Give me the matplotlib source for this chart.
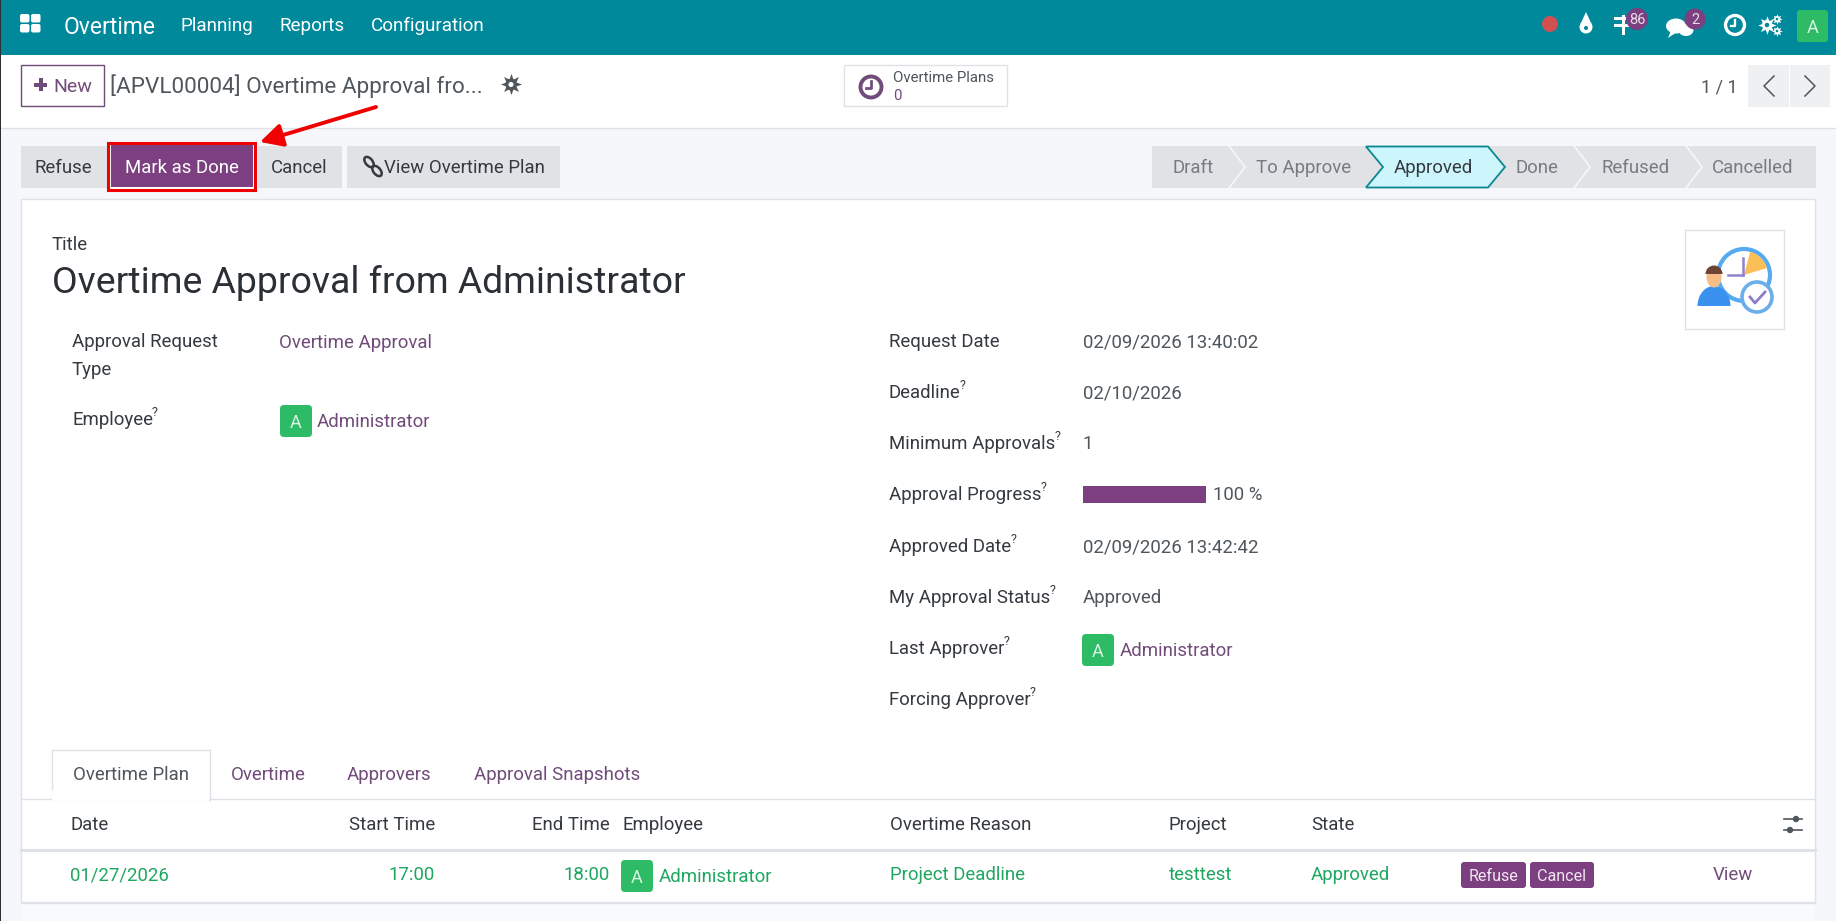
import matplotlib
matplotlib.use("Agg")
import matplotlib.pyplot as plt
from matplotlib.patches import Rectangle, FancyBboxPatch, Circle, Polygon, Wedge, Ellipse

plt.rcParams['font.family'] = ['Roboto', 'DejaVu Sans']

# texts and values
menu_items = ["Planning", "Reports", "Configuration"]
action_buttons = ["Refuse", "Mark as Done", "Cancel", "View Overtime Plan"]
status_steps = ["Draft", "To Approve", "Approved", "Done", "Refused", "Cancelled"]
left_labels = ["Approval Request", "Type", "Employee"]
right_labels = ["Request Date", "Deadline", "Minimum Approvals", "Approval Progress",
                "Approved Date", "My Approval Status", "Last Approver", "Forcing Approver"]
has_help = [False, True, True, True, True, True, True, True]
right_values = ["02/09/2026 13:40:02", "02/10/2026", "1", "", "02/09/2026 13:42:42", "Approved"]
approval_progress = 100
tabs = ["Overtime Plan", "Overtime", "Approvers", "Approval Snapshots"]
table_header = ["Date", "Start Time", "End Time", "Employee", "Overtime Reason", "Project", "State"]
table_row = ["01/27/2026", "17:00", "18:00", "Administrator", "Project Deadline", "testtest", "Approved"]

TEAL = "#00889b"
PURPLE = "#7c3f80"
LINK = "#714b7a"
GREEN = "#1fa760"
AVATAR = "#2dbb66"
DARK = "#343a40"
GREY = "#4f565c"
BTN = "#e0e2e6"
LINE = "#dee2e6"
BODY = 13.4

fig = plt.figure(figsize=(18.36, 9.21), dpi=100)
ax = fig.add_axes([0, 0, 1, 1])
ax.set_xlim(0, 1836)
ax.set_ylim(921, 0)
ax.axis("off")


def box(x0, y0, x1, y1, fc, ec="none", lw=0, z=1):
    ax.add_patch(Rectangle((x0, y0), x1 - x0, y1 - y0, fc=fc, ec=ec, lw=lw, zorder=z))


def rbox(x0, y0, x1, y1, fc, r=3, z=2):
    ax.add_patch(FancyBboxPatch((x0 + r, y0 + r), x1 - x0 - 2 * r, y1 - y0 - 2 * r,
                                boxstyle="round,pad=%d,rounding_size=%d" % (r, r), fc=fc, ec="none", zorder=z))


def txt(x, y, s, size=BODY, color=DARK, ha="left", **kw):
    return ax.text(x, y - 1, s, fontsize=size, color=color, ha=ha, va="center_baseline", zorder=6, **kw)


def avatar(x, y):
    rbox(x, y, x + 32, y + 32, AVATAR, r=4)
    txt(x + 16, y + 17, "A", 13, "#d8f3e2", ha="center")


def label(x, y, s, q=True):
    # label with the small question mark after it
    t = txt(x, y, s)
    if q:
        bb = t.get_window_extent(fig.canvas.get_renderer())
        txt(bb.x1 - 1, y - 7, "?", 9, DARK)


def clock(x, y, r, color, lw=2.4, z=6):
    ax.add_patch(Circle((x, y), r, fc="none", ec=color, lw=lw, zorder=z))
    ax.plot([x, x, x - r * 0.45], [y - r * 0.55, y + r * 0.1, y + r * 0.1], color=color, lw=lw * 0.7, zorder=z)


def gear(x, y, r, color, bg):
    ax.plot([x], [y], marker=(8, 1, 0), ms=r * 1.9, color=color, mew=0, zorder=5)
    ax.add_patch(Circle((x, y), r * 0.72, fc=color, ec="none", zorder=5))
    ax.add_patch(Circle((x, y), r * 0.32, fc=bg, ec="none", zorder=6))


# page background
box(0, 0, 1836, 921, "#f6f7fa", z=0)
box(0, 55, 1836, 128, "#ffffff")
ax.plot([0, 1836], [128.5, 128.5], color=LINE, lw=1, zorder=2)
box(21, 199, 1815, 902, "#ffffff", ec=LINE, lw=1)
box(0, 0, 1.2, 921, "#2b3036", z=7)

# top bar
box(0, 0, 1836, 55, TEAL, z=2)
for gx, gy in [(20, 14), (31, 14), (20, 24), (31, 24)]:
    rbox(gx, gy, gx + 9.5, gy + 8.5, "#ffffff", r=2, z=3)
txt(64, 26, "Overtime", 16.5, "#ffffff")
for mx, item in zip([181, 279.5, 371], menu_items):
    txt(mx, 25, item, 13.6, "#ffffff")

ax.add_patch(Circle((1550, 24), 8, fc="#d25050", ec="none", zorder=4))
# droplet
ax.add_patch(Circle((1586, 27), 6.5, fc="#ffffff", ec="none", zorder=4))
ax.add_patch(Polygon([(1580.5, 24), (1586, 12), (1591.5, 24)], fc="#ffffff", ec="none", zorder=4))
ax.add_patch(Circle((1586, 28), 2, fc=TEAL, ec="none", zorder=5))
# signpost
box(1622, 15, 1625, 35, "#ffffff", z=4)
box(1614, 17, 1632, 20, "#ffffff", z=4)
box(1614, 24, 1632, 27, "#ffffff", z=4)
ax.add_patch(Circle((1637, 19), 11, fc=PURPLE, ec="none", zorder=5))
txt(1637, 20, "86", 10.5, "#e8dcea", ha="center")
# chat bubbles
ax.add_patch(Ellipse((1676, 26), 20, 15, fc="#ffffff", ec="none", zorder=4))
ax.add_patch(Ellipse((1686, 30), 15, 12, fc="#ffffff", ec="none", zorder=4))
ax.add_patch(Polygon([(1668, 38), (1672, 28), (1680, 30)], fc="#ffffff", ec="none", zorder=4))
ax.add_patch(Circle((1695, 19), 10.5, fc=PURPLE, ec="none", zorder=5))
txt(1695, 20, "2", 10.5, "#e8dcea", ha="center")
clock(1735, 25, 9.5, "#ffffff")
gear(1767, 25, 7, "#ffffff", TEAL)
gear(1777, 19, 4, "#ffffff", TEAL)
gear(1777, 31, 4, "#ffffff", TEAL)
rbox(1797, 10, 1828, 42, AVATAR, r=3)
txt(1812.5, 27, "A", 13, "#d8f3e2", ha="center")

# control panel first row
box(20.5, 65.5, 104, 106.5, "#ffffff", ec=LINK, lw=1, z=2)
box(34, 83, 47, 87, LINK, z=3)
box(38.5, 78.5, 42.5, 91.5, LINK, z=3)
txt(53, 86, "New", 14, LINK)
txt(110, 85, "[APVL00004] Overtime Approval fro...", 16.2, GREY)
gear(511, 84.5, 8, GREY, "#ffffff")

box(843.5, 65.5, 1006.5, 106.5, "#ffffff", ec=LINE, lw=1, z=2)
clock(871, 87, 10.5, LINK, lw=2.8)
txt(893, 78, "Overtime Plans", 10.8, GREY)
txt(893, 96, "0", 10.8, LINK)

txt(1738, 86, "1 / 1", 13, GREY, ha="right")
box(1748, 65, 1789, 107, "#eff0f2", z=2)
box(1790, 65, 1830, 107, "#eff0f2", z=2)
ax.plot([1774, 1764, 1774], [76, 86, 96], color=GREY, lw=1.1, zorder=3)
ax.plot([1805, 1815, 1805], [76, 86, 96], color=GREY, lw=1.1, zorder=3)

# action buttons
box(21, 146, 107, 188, BTN, z=2)
box(258, 146, 342, 188, BTN, z=2)
box(347, 146, 560, 188, BTN, z=2)
box(108, 143, 255, 190, "#ffffff", ec="#f00000", lw=2.2, z=3)
box(110.5, 145.5, 253, 187.5, PURPLE, z=4)
txt(63, 167, action_buttons[0], BODY, DARK, ha="center")
txt(182, 167, action_buttons[1], BODY, "#ffffff", ha="center")
txt(299.5, 167, action_buttons[2], BODY, DARK, ha="center")
txt(384, 167, action_buttons[3], BODY, DARK)
# chain link icon
ax.add_patch(Ellipse((369, 162), 12, 7, angle=50, fc="none", ec=DARK, lw=1.8, zorder=5))
ax.add_patch(Ellipse((377, 171), 12, 7, angle=50, fc="none", ec=DARK, lw=1.8, zorder=5))

# arrow to the button
ax.annotate("", xy=(260, 142), xytext=(376, 107), zorder=8,
            arrowprops=dict(arrowstyle="-|>,head_length=1.35,head_width=0.7", color="#f00000", lw=2.8,
                            shrinkA=0, shrinkB=0))

# status bar
box(1152, 146, 1816, 188, BTN, z=2)
for sx in [1229, 1574, 1686]:
    ax.plot([sx, sx + 16, sx], [146, 167, 188], color="#f6f7fa", lw=1.2, zorder=3)
ax.add_patch(Polygon([(1366, 146.5), (1488, 146.5), (1505, 167), (1488, 187.5), (1366, 187.5), (1383, 167)],
                     fc="#ccf6fb", ec="#0a8790", lw=1.3, zorder=4))
for cx, step in zip([1193, 1304, 1433, 1537, 1636, 1753], status_steps):
    active = step == "Approved"
    txt(cx, 167, step, BODY, DARK if active else "#767c82", ha="center")

# title block
txt(52, 244, "Title")
txt(52, 280, "Overtime Approval from Administrator", 26.95, "#2b3036")

# employee image
box(1685, 230, 1784, 329, "#ffffff", ec=LINE, lw=1, z=2)
ax.add_patch(Circle((1744, 275), 26, fc="#ffffff", ec="#56aaf0", lw=3, zorder=3))
ax.add_patch(Wedge((1744, 275), 24, -75, -17, fc="#fbbf58", ec="none", zorder=3))
ax.plot([1743, 1743], [258, 275], color="#9083cf", lw=1.8, zorder=4)
ax.plot([1728, 1743], [275, 275], color="#9083cf", lw=1.8, zorder=4)
ax.add_patch(Ellipse((1714, 306), 33, 40, fc="#3a92ee", ec="none", zorder=4))
box(1696, 306, 1733, 328, "#ffffff", z=4.5)
ax.add_patch(Ellipse((1714, 277), 15, 21, fc="#f6bd86", ec="none", zorder=5))
ax.add_patch(Wedge((1714, 274), 8.5, 180, 360, fc="#6d4534", ec="none", zorder=6))
ax.add_patch(Circle((1757, 297), 15, fc="#ffffff", ec="#6aaeea", lw=2.6, zorder=6))
ax.plot([1750, 1755, 1765], [297, 303, 292], color="#8e7cc6", lw=2, zorder=7)

# left column of the form
txt(72, 341, left_labels[0])
txt(72, 369, left_labels[1])
txt(279, 342, "Overtime Approval", BODY, LINK)
label(72, 419, left_labels[2])
avatar(280, 405)
txt(317, 421, "Administrator", BODY, LINK)

# right column of the form
for ly, name, q in zip([341, 392, 443, 494, 546, 597, 648, 699], right_labels, has_help):
    label(889, ly, name, q)
for vy, val in zip([341, 392, 443, 494, 546, 597], right_values):
    txt(1083, vy, val, BODY, GREY)
bar_w = 123 * approval_progress / 100
box(1083, 486, 1083 + bar_w, 503, PURPLE, z=3)
txt(1213, 494, "%d %%" % approval_progress, BODY, GREY)
avatar(1082, 634)
txt(1120, 650, "Administrator", BODY, LINK)

# tabs
ax.plot([21, 1815], [798.5, 798.5], color=LINE, lw=1, zorder=3)
box(51.5, 749.5, 209.5, 799.5, "#ffffff", ec=LINE, lw=1, z=4)
box(52.2, 790, 209, 800.5, "#ffffff", z=4)
for tx, tab, col in zip([131, 268, 389, 557], tabs, [GREY, LINK, LINK, LINK]):
    txt(tx, 774, tab, BODY, col, ha="center")

# table head
xs = [70, 435, 610, 622, 890, 1169, 1311]
has = ["left", "right", "right", "left", "left", "left", "left"]
for x, name, ha in zip(xs, table_header, has):
    txt(x, 824, name, BODY, DARK, ha=ha)
ax.plot([21, 1815], [849.5, 849.5], color=LINE, lw=2.2, zorder=3)
ax.plot([1784, 1802], [819, 819], color=GREY, lw=1.2, zorder=3)
ax.plot([1784, 1802], [830, 830], color=GREY, lw=1.2, zorder=3)
ax.add_patch(Circle((1796, 819), 3.2, fc=GREY, ec="none", zorder=4))
ax.add_patch(Circle((1790, 830), 3.2, fc=GREY, ec="none", zorder=4))

# table row
row_x = [70, 435, 610, 659, 890, 1169, 1311]
for i, (x, val, ha) in enumerate(zip(row_x, table_row, has)):
    txt(x, 876 if i == 3 else 874, val, BODY, GREEN, ha=ha)
avatar(621, 860)
rbox(1461, 862, 1526, 888, PURPLE, r=3)
rbox(1530, 862, 1594, 888, PURPLE, r=3)
txt(1493.5, 876, "Refuse", 11.6, "#f1e8f2", ha="center")
txt(1562, 876, "Cancel", 11.6, "#f1e8f2", ha="center")
txt(1713, 874, "View", BODY, LINK)
ax.plot([21, 1815], [902.5, 902.5], color=LINE, lw=1, zorder=3)
box(22, 903, 1815, 921, "#f9fafb", z=2)

fig.savefig("out.png", dpi=100)
